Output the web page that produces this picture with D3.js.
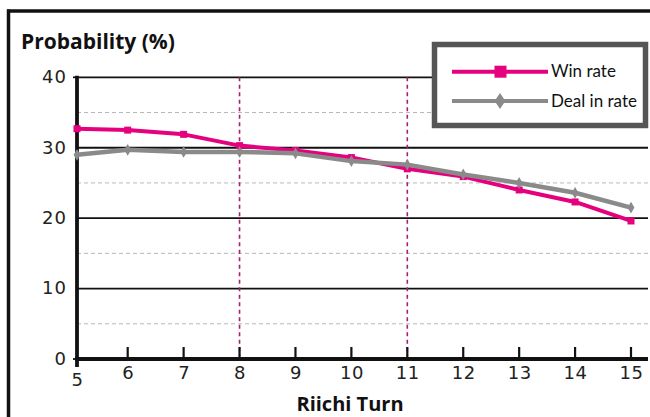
<!DOCTYPE html>
<html>
<head>
<meta charset="utf-8">
<script src="https://cdn.jsdelivr.net/npm/d3@7"></script>
<style>
  html, body { margin: 0; padding: 0; background: #fff; }
  svg { display: block; }
</style>
</head>
<body>
<svg id="chart" width="650" height="417"></svg>
<script>
// Riichi turn vs. win / deal-in probability
const turns = [5, 6, 7, 8, 9, 10, 11, 12, 13, 14, 15];
const winRate = [32.7, 32.5, 31.9, 30.3, 29.6, 28.6, 27.0, 25.9, 24.0, 22.3, 19.6];
const dealInRate = [29.0, 29.7, 29.4, 29.4, 29.2, 28.1, 27.6, 26.2, 25.0, 23.6, 21.5];
const seriesNames = ["Win rate", "Deal in rate"];
const majorTicks = [0, 10, 20, 30, 40];
const minorTicks = [5, 15, 25, 35];
const markedTurns = [8, 11];

const svg = d3.select("#chart");
const W = 650, H = 417;

const pink = "#e5007d";
const grey = "#8a8a8a";

// The first turn sits on the axis; later turns are evenly spaced.
const x = d3.scaleLinear().domain([5, 6, 15]).range([77, 127.7, 631]);
const y = d3.scaleLinear().domain([0, 40]).range([359, 77.3]);
const plotRight = 648;

// Outer frame (top and left edges)
svg.append("line").attr("x1", 7).attr("x2", W).attr("y1", 11).attr("y2", 11)
  .attr("stroke", "#111").attr("stroke-width", 3.5);
svg.append("line").attr("x1", 8.5).attr("x2", 8.5).attr("y1", 9.5).attr("y2", H)
  .attr("stroke", "#111").attr("stroke-width", 3.5);

// Minor dashed gridlines
svg.append("g").selectAll("line").data(minorTicks).join("line")
  .attr("x1", x(5)).attr("x2", plotRight)
  .attr("y1", d => y(d)).attr("y2", d => y(d))
  .attr("stroke", "#b8b8b8").attr("stroke-width", 1).attr("stroke-dasharray", "4,3");

// Major solid gridlines
svg.append("g").selectAll("line").data(majorTicks.filter(d => d > 0)).join("line")
  .attr("x1", x(5)).attr("x2", plotRight)
  .attr("y1", d => y(d)).attr("y2", d => y(d))
  .attr("stroke", "#111").attr("stroke-width", 1.8);

// Vertical markers at turns 8 and 11
svg.append("g").selectAll("line").data(markedTurns).join("line")
  .attr("x1", d => x(d)).attr("x2", d => x(d))
  .attr("y1", y(40)).attr("y2", y(0) - 3)
  .attr("stroke", "#a3216f").attr("stroke-width", 1.6).attr("stroke-dasharray", "4,3.5");

// X axis with upward ticks
const xAxis = d3.axisBottom(x).tickValues(turns).tickSize(0).tickFormat(d3.format("d"));
const gx = svg.append("g").attr("transform", `translate(0,${y(0)})`).call(xAxis);
gx.select(".domain").remove();
gx.selectAll(".tick text")
  .attr("font-family", "DejaVu Sans").attr("font-size", 18).attr("fill", "#222")
  .attr("letter-spacing", 0.5)
  .attr("y", d => d === 5 ? 14 : 7);
svg.append("g").selectAll("line").data(turns.filter(d => d > 5)).join("line")
  .attr("x1", d => x(d)).attr("x2", d => x(d))
  .attr("y1", y(0)).attr("y2", y(0) - 12)
  .attr("stroke", "#111").attr("stroke-width", 2.2);
svg.append("line").attr("x1", x(5) - 2).attr("x2", plotRight).attr("y1", y(0)).attr("y2", y(0))
  .attr("stroke", "#111").attr("stroke-width", 3.8);

// Y axis
const yAxis = d3.axisLeft(y).tickValues(majorTicks).tickSize(0).tickPadding(10);
const gy = svg.append("g").attr("transform", `translate(${x(5)},0)`).call(yAxis);
gy.select(".domain").remove();
gy.selectAll(".tick text")
  .attr("font-family", "DejaVu Sans").attr("font-size", 18).attr("fill", "#222")
  .attr("letter-spacing", 1).attr("dy", "0.3em");
svg.append("line").attr("x1", x(5)).attr("x2", x(5)).attr("y1", y(40) - 1.5).attr("y2", y(0) + 8)
  .attr("stroke", "#111").attr("stroke-width", 3.8);
svg.append("g").selectAll("line").data([0, 40]).join("line")
  .attr("x1", x(5) - 4).attr("x2", x(5))
  .attr("y1", d => y(d)).attr("y2", d => y(d))
  .attr("stroke", "#111").attr("stroke-width", 1.8);

// Series
const line = d3.line().x((d, i) => x(turns[i])).y(d => y(d));

svg.append("path").datum(winRate)
  .attr("d", line).attr("fill", "none")
  .attr("stroke", pink).attr("stroke-width", 4).attr("stroke-linejoin", "round");
svg.append("g").selectAll("rect").data(winRate).join("rect")
  .attr("x", (d, i) => x(turns[i]) - 3.5).attr("y", d => y(d) - 3.5)
  .attr("width", 7).attr("height", 7).attr("fill", pink);

svg.append("path").datum(dealInRate)
  .attr("d", line).attr("fill", "none")
  .attr("stroke", grey).attr("stroke-width", 4.5).attr("stroke-linejoin", "round");
const diamond = d3.symbol().type(d3.symbolDiamond).size(40);
svg.append("g").selectAll("path").data(dealInRate).join("path")
  .attr("d", diamond)
  .attr("transform", (d, i) => `translate(${x(turns[i])},${y(d)})`)
  .attr("fill", grey);

// Axis titles
svg.append("text").attr("x", 21).attr("y", 49)
  .attr("font-family", "Open Sans").attr("font-weight", 700).attr("font-size", 21)
  .attr("fill", "#111").text("Probability (%)");
svg.append("text").attr("x", 350).attr("y", 411).attr("text-anchor", "middle")
  .attr("font-family", "Open Sans").attr("font-weight", 700).attr("font-size", 20)
  .attr("fill", "#111").text("Riichi Turn");

// Legend
const lg = svg.append("g");
lg.append("rect").attr("x", 434.5).attr("y", 44.5).attr("width", 211).attr("height", 81)
  .attr("fill", "#fff").attr("stroke", "#555").attr("stroke-width", 5.5);
const legendRows = [
  { name: seriesNames[0], color: pink, ly: 71.7, marker: "square" },
  { name: seriesNames[1], color: grey, ly: 101, marker: "diamond" }
];
legendRows.forEach(r => {
  lg.append("line").attr("x1", 452).attr("x2", 548).attr("y1", r.ly).attr("y2", r.ly)
    .attr("stroke", r.color).attr("stroke-width", 4);
  if (r.marker === "square") {
    lg.append("rect").attr("x", 494.5).attr("y", r.ly - 6).attr("width", 12).attr("height", 12)
      .attr("fill", r.color);
  } else {
    lg.append("path").attr("d", d3.symbol().type(d3.symbolDiamond).size(75))
      .attr("transform", `translate(500,${r.ly}) scale(1.15,1)`).attr("fill", r.color);
  }
  lg.append("text").attr("x", 551).attr("y", r.ly + 5.5)
    .attr("font-family", "Lato").attr("font-size", 17).attr("fill", "#111").text(r.name);
});
</script>
</body>
</html>
